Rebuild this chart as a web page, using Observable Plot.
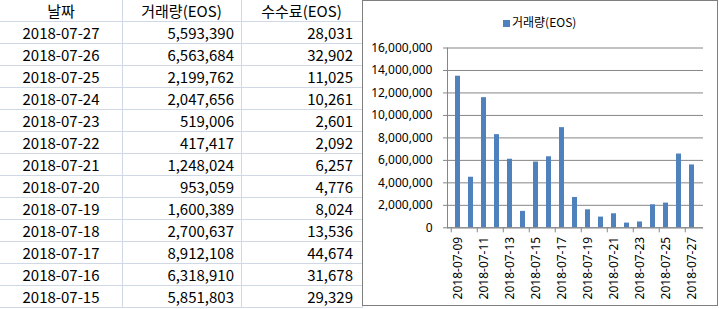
<!DOCTYPE html>
<html><head><meta charset="utf-8">
<script src="https://cdn.jsdelivr.net/npm/d3@7"></script>
<script src="https://cdn.jsdelivr.net/npm/@observablehq/plot@0.6"></script>
<style>
body{margin:0;width:719px;height:309px;overflow:hidden;background:#fff;font-family:"Noto Sans CJK KR","Noto Sans",sans-serif;color:#000;position:relative;}
.cell{position:absolute;box-sizing:border-box;height:22px;border-right:1px solid #d0d7e5;border-bottom:1px solid #d0d7e5;font-size:15px;line-height:21px;white-space:nowrap;}
#frame{position:absolute;left:362px;top:0;width:356px;height:306px;box-sizing:border-box;border:1px solid #7f7f7f;background:#fff;}
#legend{position:absolute;left:140px;top:13px;font-size:12px;line-height:16px;white-space:nowrap;}
#legend span.sw{display:inline-block;width:7px;height:7px;background:#4f81bd;margin-right:2px;vertical-align:0px;}
#chart{position:absolute;left:0;top:0;}
</style></head>
<body>
<div id="table"></div>
<div id="frame"><div id="chart"></div><div id="legend"><span class="sw"></span><span id="legtext"></span></div></div>
<script>
// ---- data ----
const headers = ["날짜", "거래량(EOS)", "수수료(EOS)"];
const tableDates = ["2018-07-27","2018-07-26","2018-07-25","2018-07-24","2018-07-23","2018-07-22","2018-07-21","2018-07-20","2018-07-19","2018-07-18","2018-07-17","2018-07-16","2018-07-15"];
const tableVolume = [5593390,6563684,2199762,2047656,519006,417417,1248024,953059,1600389,2700637,8912108,6318910,5851803];
const tableFee = [28031,32902,11025,10261,2601,2092,6257,4776,8024,13536,44674,31678,29329];

const chartDates = ["2018-07-09","2018-07-10","2018-07-11","2018-07-12","2018-07-13","2018-07-14","2018-07-15","2018-07-16","2018-07-17","2018-07-18","2018-07-19","2018-07-20","2018-07-21","2018-07-22","2018-07-23","2018-07-24","2018-07-25","2018-07-26","2018-07-27"];
const chartVolume = [13490000,4500000,11580000,8290000,6100000,1460000,5851803,6318910,8912108,2700637,1600389,953059,1248024,417417,519006,2047656,2199762,6563684,5593390];
const yTicks = [0,2000000,4000000,6000000,8000000,10000000,12000000,14000000,16000000];
const seriesName = "거래량(EOS)";

// ---- table ----
const fmt = d3.format(",");
const colX = [0,122,241];
const colW = [123,120,122];
const colAlign = ["center","right","right"];
const colPad = [0,7,9];
const tbl = document.getElementById("table");
function cell(r,c,text,align){
  const d = document.createElement("div");
  d.className="cell";
  d.style.left = (colX[c]) + "px";
  d.style.top = (r*22) + "px";
  d.style.width = colW[c] + "px";
  d.style.textAlign = align;
  if (align==="right") d.style.paddingRight = colPad[c] + "px";
  d.textContent = text;
  tbl.appendChild(d);
}
headers.forEach((h,c)=>cell(0,c,h,"center"));
tableDates.forEach((d,i)=>{
  cell(i+1,0,d,"center");
  cell(i+1,1,fmt(tableVolume[i]),"right");
  cell(i+1,2,fmt(tableFee[i]),"right");
});

document.getElementById("legtext").textContent = seriesName;

// ---- chart ----
const W = 354, H = 304, mL = 84, mR = 14, mT = 46.5, mB = 77.7;
const step = (W - mL - mR) / chartDates.length;
const labelDates = chartDates.filter((d,i)=>i%2===0);
const chart = Plot.plot({
  width: W, height: H,
  marginLeft: mL, marginRight: mR, marginTop: mT, marginBottom: mB,
  style: {fontFamily: '"Noto Sans", "Noto Sans CJK KR", sans-serif', fontSize: "12px", color: "#000", background: "transparent", overflow: "visible"},
  x: {type: "band", domain: chartDates, paddingInner: 0.6, paddingOuter: 0.3, label: null},
  y: {domain: [0, 16000000], label: null},
  marks: [
    Plot.gridY(yTicks, {stroke: "#868686", strokeOpacity: 1}),
    Plot.axisY(yTicks, {tickFormat: fmt, tickSize: 4, tickPadding: 11, stroke: "#868686", fill: "#000", label: null}),
    Plot.barY(chartVolume, {x: chartDates, y: chartVolume, fill: "#4f81bd"}),
    Plot.ruleY([0], {stroke: "#868686"}),
    Plot.frame({anchor: "left", stroke: "#868686"}),
    Plot.axisX(labelDates, {tickSize: 5, text: null, dx: -step/2, stroke: "#868686", label: null}),
    Plot.axisX(labelDates, {tickSize: 0, tickPadding: 9, tickRotate: -90, fill: "#000", label: null})
  ]
});
document.getElementById("chart").appendChild(chart);
</script>
</body></html>
